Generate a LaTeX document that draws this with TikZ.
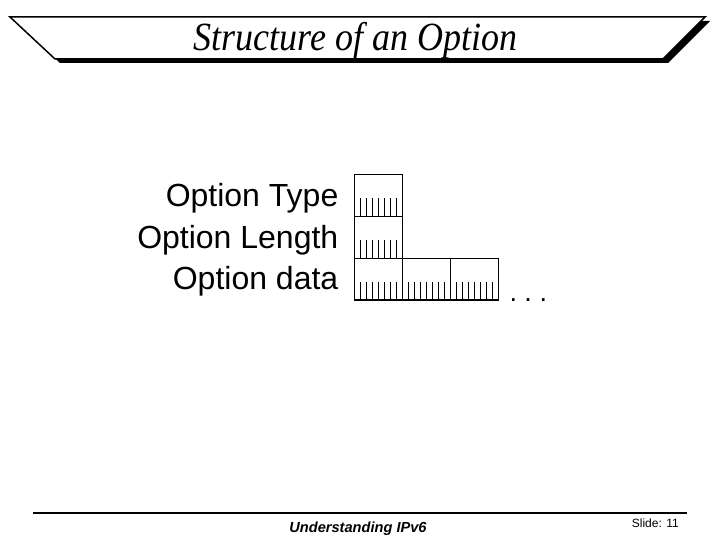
\documentclass[tikz,border=0pt]{standalone}
\usepackage{fontspec}
\usetikzlibrary{calc}
\setmainfont{Liberation Sans}
\newfontfamily\titlefont{Liberation Serif}
\begin{document}
\begin{tikzpicture}[x=1pt,y=-1pt,
  bytebox/.style={draw=black,line width=1.3pt,minimum width=48pt,minimum height=41.7pt,inner sep=0pt,outer sep=0pt},
  fieldlabel/.style={anchor=base east,inner sep=0pt,font=\fontsize{32}{38}\selectfont},
  tick/.style={line width=1pt}]
\useasboundingbox (0,0) rectangle (720,540);
% title banner
\fill[black] (15,21) -- (710,21) -- (668,63) -- (60,63) -- cycle;
\draw[line width=1.5pt,fill=white] (10,17) -- (705,17) -- (663,59) -- (55,59) -- cycle;
\node[anchor=base,inner sep=0pt,font=\titlefont\itshape\fontsize{40}{44}\selectfont,xscale=0.9] (title) at (355.5,51) {Structure of an Option};
% labels
\node[fieldlabel] (ltype) at (338.5,207) {Option Type};
\node[fieldlabel] (llen) at (338.5,248) {Option Length};
\node[fieldlabel] (ldata) at (338.5,289) {Option data};
% boxes
\node[bytebox] (btype) at (378.3,195.35) {};
\node[bytebox] (blen) at (378.3,237.5) {};
\node[bytebox] (bd1) at (378.3,279.15) {};
\node[bytebox] (bd2) at (426.3,279.15) {};
\node[bytebox] (bd3) at (474.3,279.15) {};
\foreach \b in {btype,blen,bd1,bd2,bd3}{
  \foreach \k in {1,...,7}{
    \draw[tick] ($(\b.south west)+(6*\k,0)$) -- ++(0,-18.4);
  }
}
\node[anchor=base west,inner sep=0pt,font=\fontsize{27}{30}\selectfont] (dots) at ([xshift=11pt,yshift=-1pt]bd3.south east) {.\ .\ .};
% footer
\draw[line width=2pt] (33,512.7) coordinate (fl) -- (687,512.7) coordinate (fr);
\node[anchor=base,inner sep=0pt,font=\bfseries\itshape\fontsize{14.6}{16}\selectfont] (foot) at (358,532) {Understanding IPv6};
\node[anchor=base east,inner sep=0pt,font=\fontsize{12}{14}\selectfont] (slide) at (679,527) {Slide: 11};
\end{tikzpicture}
\end{document}
